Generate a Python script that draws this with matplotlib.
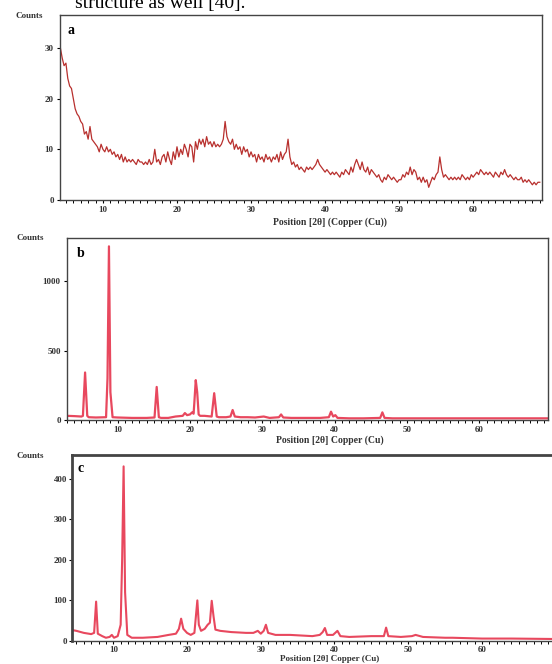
import numpy as np
import matplotlib
matplotlib.use("Agg")
import matplotlib.pyplot as plt
from matplotlib.ticker import MultipleLocator

plt.rcParams['font.family'] = ['Liberation Serif', 'DejaVu Serif']

# panel a: amorphous scan, 0.25 deg steps from 4.25 deg (one row = 1 deg)
a_start, a_step = 4.25, 0.25
a_counts = [
    30, 28, 26.5, 27,  24, 22.5, 22, 20,  18, 17, 16.5, 15.5,  15, 13, 13.5, 12,
    14.5, 12, 11.5, 11,  10.5, 9.5, 11, 10,  9.5, 10.5, 9.5, 10,  9, 9.5, 8.5, 9,
    8, 9, 7.5, 8.5,  7.5, 8, 7.5, 8,  7.5, 7, 8, 7.5,  7.5, 7, 7.5, 7,
    8, 7, 7.5, 10,  7.5, 8, 7, 8.5,  9, 7.5, 9.5, 8,  7, 9.5, 8, 10.5,
    8.5, 10, 9, 11,  10, 8.5, 11, 10.5,  7.5, 11.5, 10, 12,  11, 12, 10.5, 12.5,
    11, 11.5, 10.5, 11.5,  10.5, 11, 10.5, 11,  12, 15.5, 12.5, 11.5,  11, 12, 10, 11,
    10, 10.5, 9, 10.5,  9.5, 10, 8.5, 9.5,  8.5, 9, 7.5, 9,  8, 8.5, 7.5, 9,
    8, 8.5, 7.5, 8.5,  8, 9, 7.5, 9.5,  8, 9, 9.5, 12,  8.5, 7, 7.5, 6.5,
    7, 6, 6.5, 6,  5.5, 6.5, 6, 6.5,  6, 6.5, 7, 8,  7, 6.5, 6, 5.5,
    6, 5.5, 5, 5.5,  5, 5.5, 5, 4.5,  5.5, 5, 6, 5.5,  5, 6.5, 5.5, 7,
    8, 7, 6, 7.5,  6, 5.5, 6.5, 5,  6, 5.5, 5, 4.5,  5, 4, 3.5, 4.5,
    4, 5, 4.5, 4,  4.5, 4, 3.5, 4,  4, 5, 4.5, 5.5,  5, 6.5, 5, 6,
    5.5, 4, 4.5, 3.5,  4.5, 3.5, 4, 2.5,  3.5, 4.5, 4, 5,  5.5, 8.5, 6, 4.5,
    5, 4.5, 4, 4.5,  4, 4.5, 4, 4.5,  4, 5, 4.5, 4,  4.5, 4, 5, 4.5,
    5, 5.5, 5, 6,  5.5, 5, 5.5, 5,  5.5, 5, 4.5, 5.5,  5, 4.5, 5.5, 5,
    6, 5, 4.5, 5,  4.5, 4, 4.5, 4,  4, 4.5, 3.5, 4,  3.5, 4, 3.5, 3,
    3.5, 3, 3.5, 3.5,
]
a_theta = a_start + a_step * np.arange(len(a_counts))

# panel b
b_theta = [3.0, 4.0, 5.0, 5.2, 5.5, 5.8, 6.0, 7.0, 8.4, 8.6, 8.8, 9.0, 9.3, 10.0,
           12.0, 14.0, 15.1, 15.4, 15.7, 16.0, 17.0, 18.0, 19.0, 19.3, 19.6, 20.0,
           20.3, 20.5, 20.6, 20.8, 21.0, 21.2, 21.4, 22.0, 23.0, 23.35, 23.7, 24.0,
           25.0, 25.6, 25.9, 26.2, 27.0, 28.0, 29.0, 30.2, 31.0, 32.3, 32.6, 32.9,
           34.0, 36.0, 38.0, 39.2, 39.5, 39.8, 40.1, 40.4, 42.0, 44.0, 46.3, 46.6,
           46.9, 48.0, 52.0, 56.0, 60.0, 64.0, 69.5]
b_counts = [30, 28, 25, 30, 342, 30, 20, 18, 20, 300, 1250, 200, 20, 18,
            15, 15, 18, 238, 20, 15, 15, 25, 30, 50, 35, 40,
            55, 45, 120, 287, 200, 40, 30, 30, 25, 193, 25, 20,
            20, 25, 72, 25, 20, 20, 18, 25, 15, 20, 40, 18,
            15, 15, 15, 20, 60, 25, 35, 15, 12, 12, 15, 55,
            15, 12, 12, 12, 12, 12, 12]

# panel c
c_theta = [4.4, 5.0, 6.0, 7.0, 7.4, 7.67, 7.9, 8.5, 9.0, 9.5, 9.8, 10.1, 10.6, 11.0,
           11.2, 11.4, 11.6, 11.9, 12.5, 14.0, 16.0, 17.5, 18.5, 18.9, 19.2, 19.5,
           20.0, 20.5, 21.0, 21.2, 21.4, 21.6, 21.9, 22.4, 22.8, 23.1, 23.35, 23.6,
           23.85, 24.5, 26.0, 28.0, 29.0, 29.6, 30.0, 30.4, 30.7, 31.0, 32.0, 34.0,
           37.0, 38.0, 38.4, 38.7, 39.0, 39.8, 40.4, 40.8, 42.0, 45.0, 46.7, 47.0,
           47.3, 49.0, 50.5, 51.0, 52.0, 55.0, 56.0, 60.0, 64.0, 69.5]
c_counts = [27, 25, 20, 17, 20, 97, 18, 12, 8, 10, 15, 8, 12, 40,
            200, 430, 120, 15, 8, 8, 10, 15, 18, 30, 55, 30,
            20, 15, 20, 60, 100, 40, 25, 30, 40, 45, 99, 60,
            28, 25, 22, 20, 20, 25, 18, 25, 40, 20, 15, 15,
            12, 15, 22, 32, 15, 15, 25, 12, 10, 12, 12, 33,
            12, 10, 12, 15, 10, 8, 8, 6, 6, 5]

W, H = 552, 664
fig = plt.figure(figsize=(W / 100, H / 100), dpi=100)

def box(l, r, t, b):
    return [l / W, 1 - b / H, (r - l) / W, (b - t) / H]

def style(ax, yticks, pad=2):
    ax.xaxis.set_major_locator(MultipleLocator(10))
    ax.xaxis.set_minor_locator(MultipleLocator(1))
    ax.set_yticks(yticks)
    ax.tick_params(axis='both', which='major', labelsize=6.5, length=2.5, width=0.8, pad=pad)
    ax.tick_params(axis='x', which='minor', length=2, width=0.7)
    for lab in ax.get_xticklabels() + ax.get_yticklabels():
        lab.set_fontweight('bold')
        lab.set_color('#333333')
    for s in ax.spines.values():
        s.set_color('#444444')
        s.set_linewidth(1.0)

# header line cut off at the top
fig.text(75 / W, 1 - 8 / H, "structure as well [40].", fontsize=14, va='baseline')

ax1 = fig.add_axes(box(60, 542, 15, 200))
ax1.plot(a_theta, a_counts, color='#b8302e', lw=0.9)
ax1.set_xlim(4.2, 69.3)
ax1.set_ylim(0, 36.5)
style(ax1, [0, 10, 20, 30])
ax1.text(0.015, 0.95, "a", transform=ax1.transAxes, fontsize=10, fontweight='bold', va='top')
fig.text(29 / W, 1 - 16 / H, "Counts", fontsize=6.5, fontweight='bold', ha='center', va='center', color='#333333')
fig.text(330 / W, 1 - 222 / H, "Position [2θ] (Copper (Cu))", fontsize=7, fontweight='bold',
         ha='center', va='center', color='#333333')

ax2 = fig.add_axes(box(67, 548, 238, 420))
ax2.plot(b_theta, b_counts, color='#e8485e', lw=1.6)
ax2.set_xlim(3.0, 69.5)
ax2.set_ylim(0, 1310)
style(ax2, [0, 500, 1000])
ax2.text(0.02, 0.95, "b", transform=ax2.transAxes, fontsize=10, fontweight='bold', va='top')
fig.text(30 / W, 1 - 238 / H, "Counts", fontsize=6.5, fontweight='bold', ha='center', va='center', color='#333333')
fig.text(330 / W, 1 - 440 / H, "Position [2θ] Copper (Cu)", fontsize=7, fontweight='bold',
         ha='center', va='center', color='#333333')

ax3 = fig.add_axes(box(72, 552, 455, 641))
ax3.plot(c_theta, c_counts, color='#e8485e', lw=1.5)
ax3.set_xlim(4.4, 69.5)
ax3.set_ylim(0, 458)
style(ax3, [0, 100, 200, 300, 400], pad=1)
ax3.spines['right'].set_visible(False)
ax3.spines['top'].set_linewidth(2.0)
ax3.spines['left'].set_linewidth(2.0)
ax3.text(0.012, 0.96, "c", transform=ax3.transAxes, fontsize=10, fontweight='bold', va='top')
fig.text(30 / W, 1 - 456 / H, "Counts", fontsize=6.5, fontweight='bold', ha='center', va='center', color='#333333')
fig.text(330 / W, 1 - 659 / H, "Position [2θ] Copper (Cu)", fontsize=6.5, fontweight='bold',
         ha='center', va='center', color='#333333')

fig.savefig("out.png", dpi=100)
